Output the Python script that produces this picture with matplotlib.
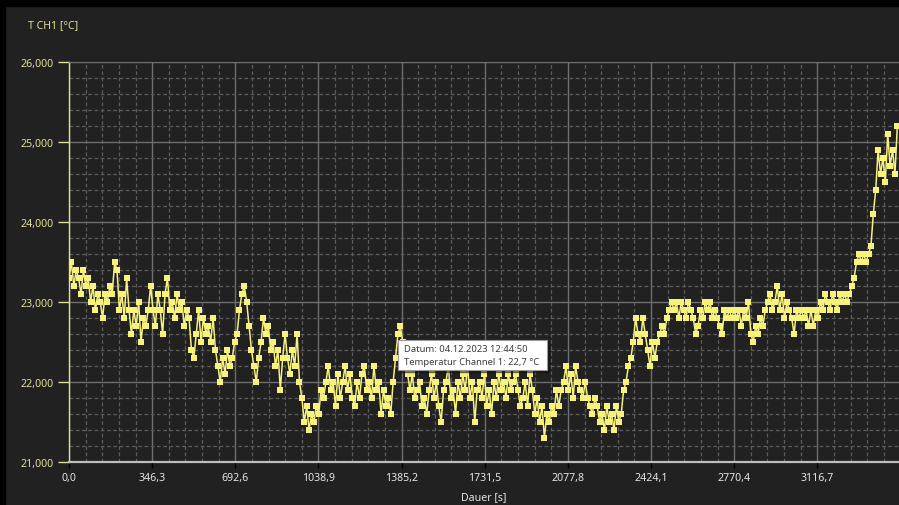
import matplotlib.pyplot as plt
import numpy as np
from matplotlib.patches import Rectangle
from matplotlib.ticker import MultipleLocator, FixedLocator

plt.rcParams['font.family'] = ['Noto Sans', 'DejaVu Sans']

temp_ch1 = [
    23.3, 23.5, 23.2, 23.4, 23.3, 23.1, 23.4, 23.2, 23.3, 23.0,
    23.2, 22.9, 23.1, 23.0, 22.8, 23.1, 23.0, 23.2, 23.1, 23.5,
    23.4, 22.9, 23.1, 22.8, 23.3, 22.9, 22.6, 22.9, 22.7, 23.0,
    22.5, 22.8, 22.7, 22.9, 23.2, 22.9, 22.7, 23.1, 22.9, 22.6,
    23.1, 23.3, 22.9, 23.0, 22.8, 23.1, 22.9, 23.0, 22.7, 22.9,
    22.8, 22.4, 22.3, 22.6, 22.9, 22.5, 22.8, 22.6, 22.7, 22.5,
    22.8, 22.4, 22.2, 22.0, 22.3, 22.1, 22.4, 22.2, 22.3, 22.5,
    22.6, 22.9, 23.1, 23.2, 23.0, 22.7, 22.4, 22.2, 22.0, 22.3,
    22.5, 22.8, 22.6, 22.7, 22.4, 22.5, 22.2, 22.4, 21.9, 22.3,
    22.6, 22.3, 22.1, 22.4, 22.2, 22.6, 22.0, 21.8, 21.5, 21.7,
    21.4, 21.6, 21.5, 21.7, 21.6, 21.9, 21.8, 22.0, 22.2, 21.9,
    22.0, 21.7, 22.1, 21.8, 22.0, 22.2, 21.9, 22.1, 21.8, 21.7,
    22.0, 21.8, 22.1, 22.2, 21.9, 22.0, 21.8, 22.2, 21.9, 22.0,
    21.6, 21.9, 21.7, 21.8, 21.6, 22.0, 22.3, 22.6, 22.7, 22.5,
    22.2, 22.1, 21.9, 22.1, 21.8, 21.9, 22.0, 21.7, 21.8, 21.6,
    21.9, 22.1, 21.8, 22.0, 21.7, 21.5, 21.9, 22.0, 22.2, 21.8,
    21.9, 21.6, 22.0, 21.8, 22.1, 21.9, 22.2, 21.8, 22.0, 21.5,
    21.9, 22.0, 21.8, 22.1, 21.7, 21.9, 21.6, 22.0, 21.8, 22.1,
    21.9, 22.0, 21.8, 22.1, 21.9, 22.0, 22.1, 21.9, 21.7, 21.8,
    22.0, 21.7, 22.1, 21.9, 21.6, 21.8, 21.5, 21.7, 21.3, 21.6,
    21.5, 21.7, 21.6, 21.9, 21.7, 21.9, 22.0, 22.2, 21.9, 22.1,
    21.8, 22.2, 22.0, 21.9, 21.8, 22.0, 21.8, 21.7, 21.6, 21.8,
    21.7, 21.5, 21.6, 21.4, 21.7, 21.5, 21.6, 21.4, 21.7, 21.5,
    21.6, 21.9, 22.0, 22.2, 22.3, 22.5, 22.8, 22.6, 22.5, 22.8,
    22.6, 22.4, 22.2, 22.5, 22.3, 22.5, 22.6, 22.7, 22.6, 22.8,
    22.9, 23.0, 22.9, 23.0, 22.8, 23.0, 22.9, 22.8, 23.0, 22.9,
    22.8, 22.6, 22.7, 22.9, 22.8, 23.0, 22.9, 23.0, 22.8, 22.9,
    22.8, 22.7, 22.6, 22.9, 22.8, 22.9, 22.8, 22.9, 22.8, 22.9,
    22.7, 22.9, 22.8, 23.0, 22.6, 22.5, 22.7, 22.6, 22.8, 22.7,
    22.9, 23.0, 23.1, 22.9, 23.0, 23.2, 22.9, 23.1, 22.8, 23.0,
    22.9, 22.8, 22.6, 22.9, 22.8, 22.9, 22.8, 22.9, 22.7, 22.9,
    22.7, 22.9, 22.8, 23.0, 22.9, 23.1, 23.0, 22.9, 23.1, 23.0,
    22.9, 23.1, 23.0, 23.1, 23.0, 23.1, 23.2, 23.3, 23.5, 23.6,
    23.5, 23.6, 23.5, 23.6, 23.7, 24.1, 24.4, 24.9, 24.6, 24.8,
    24.5, 25.1, 24.7, 24.9, 24.6, 25.2,
]
step_s = 10
x_ticks = [0.0, 346.3, 692.6, 1038.9, 1385.2, 1731.5, 2077.8, 2424.1, 2770.4, 3116.7]
y_ticks = [21, 22, 23, 24, 25, 26]
tooltip_lines = ["Datum: 04.12.2023 12:44:50", "Temperatur Channel 1: 22,7 °C"]

W, H = 899, 506
bg = '#212121'
yellow = '#f7f27c'
label_yel = '#e2de96'

fig = plt.figure(figsize=(W / 100, H / 100), dpi=100, facecolor=bg)
# window frame
fig.patches.append(Rectangle((0, 1 - 7 / H), 1, 7 / H, transform=fig.transFigure, color='black', zorder=0))
fig.patches.append(Rectangle((0, 0), 5 / W, 1, transform=fig.transFigure, color='black', zorder=0))

ax = fig.add_axes([69 / W, (H - 463) / H, 1 - 69 / W, 400 / H])
ax.set_facecolor(bg)

t = np.arange(len(temp_ch1)) * step_s
ax.plot(t, temp_ch1, color=yellow, lw=1.1, marker='s', ms=3.9, mew=0, zorder=3)

ax.set_xlim(0, 830 * 4.165)
ax.set_ylim(21, 26)

ax.xaxis.set_major_locator(FixedLocator(x_ticks))
ax.xaxis.set_minor_locator(MultipleLocator(346.3 / 5))
ax.yaxis.set_major_locator(FixedLocator(y_ticks))
ax.yaxis.set_minor_locator(MultipleLocator(0.2))
ax.set_xticklabels([f"{v:.1f}".replace('.', ',') for v in x_ticks])
ax.set_yticklabels([f"{v:.3f}".replace('.', ',') for v in y_ticks])

ax.grid(which='major', color='#6e6e6e', lw=1.0, ls='-')
ax.grid(which='minor', color='#5c5c5c', lw=0.9, ls=(0, (3, 2)))
ax.set_axisbelow(True)

ax.tick_params(axis='x', which='major', colors='#e6e6e6', length=4, width=1, pad=3, labelsize=7.6)
ax.tick_params(axis='x', which='major', color='black')
ax.tick_params(axis='y', which='major', colors=label_yel, length=8, width=1, pad=3, labelsize=7.6)
ax.tick_params(which='minor', length=0)

ax.spines['right'].set_visible(False)
ax.spines['top'].set_color('#6e6e6e')
ax.spines['bottom'].set_color('#bdbdbd')
ax.spines['bottom'].set_linewidth(1.6)
ax.spines['left'].set_color(label_yel)
ax.spines['left'].set_linewidth(1.0)

fig.text(28 / W, 1 - 26 / H, "T CH1 [°C]", color=label_yel, fontsize=7.6, va='center', ha='left')
fig.text(484 / W, 1 - 498 / H, "Dauer [s]", color='#e6e6e6', fontsize=7.6, va='center', ha='center')

# tooltip
x0, y0, x1, y1 = 398, 341, 547, 371
fig.patches.append(Rectangle((x0 / W + 2 / W, 1 - (y1 + 2) / H), (x1 - x0) / W, (y1 - y0) / H,
                             transform=fig.transFigure, color='#101010', alpha=0.5, zorder=9))
fig.patches.append(Rectangle((x0 / W, 1 - y1 / H), (x1 - x0) / W, (y1 - y0) / H,
                             transform=fig.transFigure, facecolor='white', edgecolor='#9a9a9a',
                             lw=0.8, zorder=10))
for i, line in enumerate(tooltip_lines):
    fig.text(404 / W, 1 - (350 + 13 * i) / H, line, color='#3c3c3c', fontsize=6.8,
             va='center', ha='left', zorder=11)

fig.savefig('out.png', dpi=100, facecolor=bg)
